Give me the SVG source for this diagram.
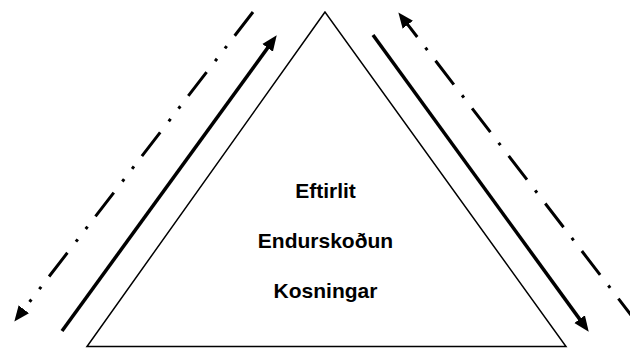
<svg xmlns="http://www.w3.org/2000/svg" width="630" height="349" viewBox="0 0 630 349">
  <style>
    .tri { fill: #ffffff; stroke: #000000; stroke-width: 1.5; stroke-linejoin: miter; }
    .lbl { font-family: "Liberation Sans", Arial, sans-serif; font-size: 21px; font-weight: bold; fill: #000000; text-anchor: middle; }
    .solid { stroke: #000000; stroke-width: 3.5; fill: none; stroke-linecap: butt; }
    .dd { stroke: #000000; stroke-width: 3; fill: none; stroke-linecap: butt; }
  </style>
  <defs>
    <marker id="ah" markerUnits="userSpaceOnUse" markerWidth="16" markerHeight="14" viewBox="0 -7 16 14" refX="1" refY="0" orient="auto-start-reverse">
      <path d="M0,-6.5 L15.5,0 L0,6.5 z" fill="#000000"/>
    </marker>
  </defs>
  <rect width="630" height="349" fill="#ffffff"/>
  <g id="pyramid">
    <polygon class="tri" points="325,12 87,346.5 566,346.5"/>
    <text class="lbl" x="325.5" y="198">Eftirlit</text>
    <text class="lbl" x="325.5" y="248">Endurskoðun</text>
    <text class="lbl" x="325.5" y="298">Kosningar</text>
  </g>
  <g id="connectors">
    <line class="solid" x1="62" y1="331" x2="268.2" y2="47.1" marker-end="url(#ah)"/>
    <line class="solid" x1="373" y1="35" x2="580.2" y2="319.9" marker-end="url(#ah)"/>
    <line class="dd" x1="253" y1="12" x2="23.2" y2="310.1" stroke-dasharray="30 13 3 13 3 14" marker-end="url(#ah)"/>
    <line class="dd" x1="407.2" y1="23.9" x2="651" y2="341" stroke-dasharray="30 13.5 3 13.5" stroke-dashoffset="13.5" marker-start="url(#ah)"/>
  </g>
</svg>
